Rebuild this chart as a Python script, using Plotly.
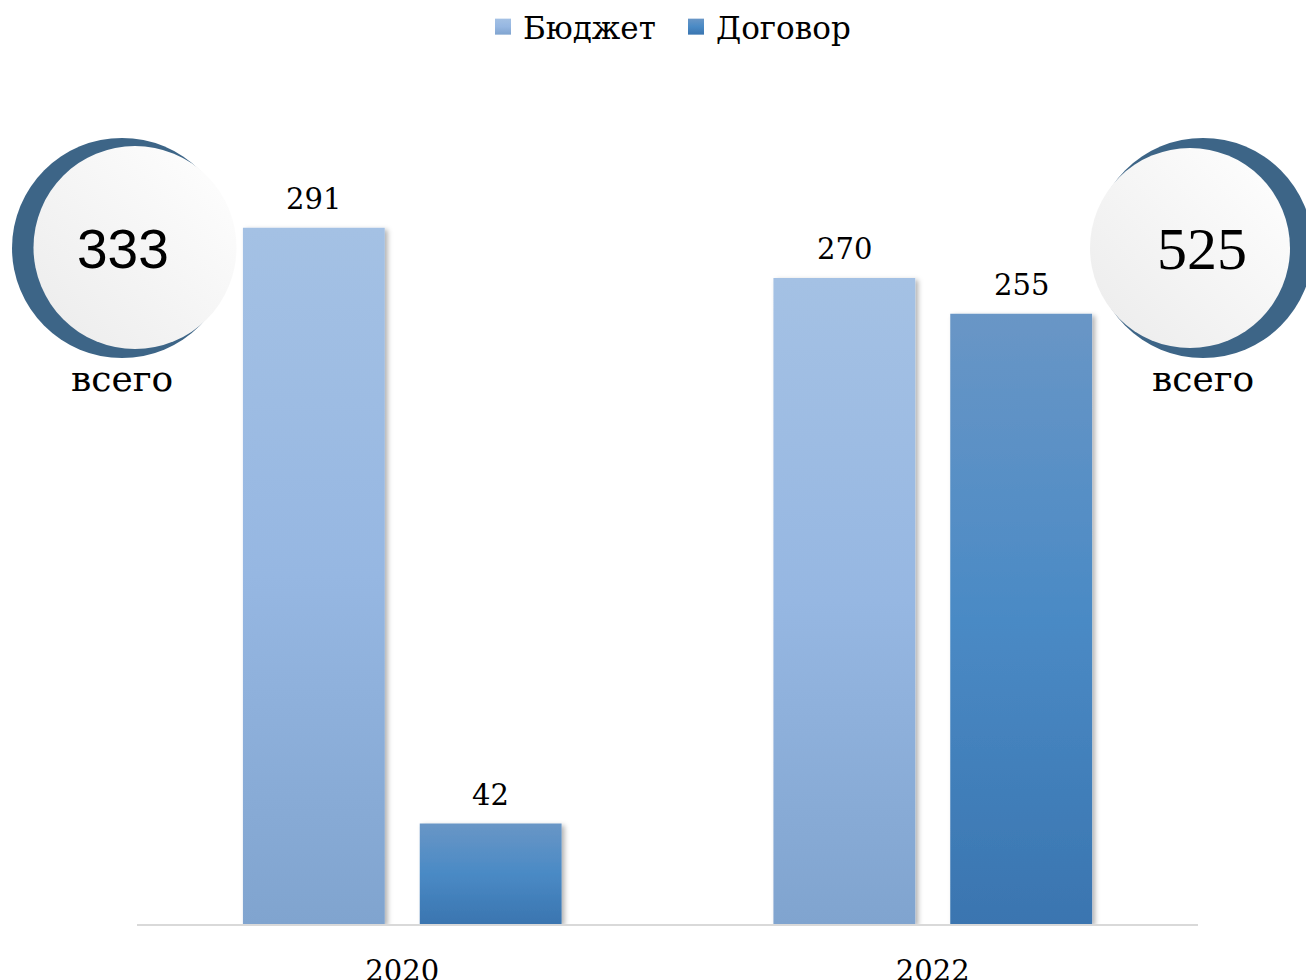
import plotly.graph_objects as go

# ---- data ----
years = ["2020", "2022"]
budget = [291, 270]
contract = [42, 255]
series_names = ["Бюджет", "Договор"]
total_word = "всего"

# ---- layout constants ----
W, H = 1306, 980
ML, MR, MT, MB = 137, 108, 120, 56
PW, PH = W - ML - MR, H - MT - MB
YMAX = 336
BARGAP, GROUPGAP = 1 / 3, 0.198
SERIF = "DejaVu Serif"


def px_x(px):
    return (px - ML) / PW


def px_y(py):
    return (H - MB - py) / PH


fig = go.Figure()
fig.add_trace(go.Bar(name=series_names[0], x=years, y=budget, marker=dict(color="#96b7e2", line=dict(width=0))))
fig.add_trace(go.Bar(name=series_names[1], x=years, y=contract, marker=dict(color="#4a8ac5", line=dict(width=0))))

# data labels above the bars (category axis -> use category index)
slot = (1 - BARGAP) * (PW / len(years)) / 2
annotations = []
for si, vals in enumerate([budget, contract]):
    shift = (si - 0.5) * slot
    for ci, v in enumerate(vals):
        annotations.append(dict(x=ci, y=v, xref="x", yref="y", text=str(v), showarrow=False,
                                xshift=shift, yshift=29, yanchor="middle",
                                font=dict(family=SERIF, size=29, color="#000000")))

# totals badges
totals = [b + c for b, c in zip(budget, contract)]
badges = [
    dict(dark=(122, 248, 110), disk=(135, 247.5, 101.5), num=(122.5, 249), word=(121.5, 379),
         font=dict(family="Liberation Sans, sans-serif", size=55, color="#000")),
    dict(dark=(1203, 248, 110), disk=(1190, 248, 100), num=(1201.5, 249), word=(1202.5, 379),
         font=dict(family="Liberation Serif, serif", size=60, color="#000")),
]
shapes = []
for b, tot in zip(badges, totals):
    cx, cy, r = b["dark"]
    shapes.append(dict(type="circle", xref="paper", yref="paper", layer="above",
                       x0=px_x(cx - r), x1=px_x(cx + r), y0=px_y(cy + r), y1=px_y(cy - r),
                       fillcolor="#3d6587", line=dict(width=0)))
    cx, cy, r = b["disk"]
    shapes.append(dict(type="circle", xref="paper", yref="paper", layer="above",
                       x0=px_x(cx - r), x1=px_x(cx + r), y0=px_y(cy + r), y1=px_y(cy - r),
                       fillcolor="rgb(250,250,251)", line=dict(width=0)))
    annotations.append(dict(x=px_x(b["num"][0]), y=px_y(b["num"][1]), xref="paper", yref="paper",
                            text=str(tot), showarrow=False, xanchor="center", yanchor="middle",
                            font=b["font"]))
    annotations.append(dict(x=px_x(b["word"][0]), y=px_y(b["word"][1]), xref="paper", yref="paper",
                            text=total_word, showarrow=False, xanchor="center", yanchor="middle",
                            font=dict(family=SERIF, size=36, color="#000")))

fig.update_layout(
    width=W, height=H,
    margin=dict(l=ML, r=MR, t=MT, b=MB, autoexpand=False),
    paper_bgcolor="white", plot_bgcolor="white",
    barmode="group", bargap=BARGAP, bargroupgap=GROUPGAP,
    showlegend=True,
    legend=dict(orientation="h", x=px_x(676), xanchor="center", y=px_y(27), yanchor="middle",
                font=dict(family=SERIF, size=31, color="#000"), itemwidth=30,
                entrywidth=148, entrywidthmode="pixels",
                traceorder="normal"),
    xaxis=dict(type="category", range=[-0.5, len(years) - 0.5], autorange=False,
               showline=True, linecolor="#d9d9d9", linewidth=2,
               showgrid=False, zeroline=False, ticks="outside", ticklen=20,
               tickcolor="rgba(0,0,0,0)",
               tickfont=dict(family=SERIF, size=29, color="#000")),
    yaxis=dict(range=[0, YMAX], autorange=False, visible=False, showgrid=False, zeroline=False),
    shapes=shapes,
    annotations=annotations,
)

post_js = r"""
(function(){
document.body.style.margin='0';
document.body.style.padding='0';
var gd = document.getElementById('{plot_id}');
var svg = gd.querySelector('svg.main-svg');
var NS = 'http://www.w3.org/2000/svg';
var defs = svg.querySelector('defs');
if(!defs){ defs = document.createElementNS(NS,'defs'); svg.insertBefore(defs, svg.firstChild); }
function grad(id, x1,y1,x2,y2, stops){
  var g = document.createElementNS(NS,'linearGradient');
  g.setAttribute('id', id);
  g.setAttribute('x1',x1); g.setAttribute('y1',y1); g.setAttribute('x2',x2); g.setAttribute('y2',y2);
  stops.forEach(function(s){ var st=document.createElementNS(NS,'stop'); st.setAttribute('offset', s[0]); st.setAttribute('stop-color', s[1]); g.appendChild(st); });
  defs.appendChild(g);
}
grad('gBud','0','0','0','1', [['0','#a4c1e4'],['0.5','#96b7e2'],['1','#80a4cf']]);
grad('gDog','0','0','0','1', [['0','#6996c6'],['0.5','#4a8ac5'],['1','#3a75b0']]);
grad('gDisk','1','0','0','1', [['0','#ffffff'],['1','#ebebeb']]);
var f = document.createElementNS(NS,'filter');
f.setAttribute('id','shBar'); f.setAttribute('x','-20%'); f.setAttribute('y','-20%');
f.setAttribute('width','140%'); f.setAttribute('height','140%');
var ds = document.createElementNS(NS,'feDropShadow');
ds.setAttribute('dx','3'); ds.setAttribute('dy','2'); ds.setAttribute('stdDeviation','2.5');
ds.setAttribute('flood-color','#000'); ds.setAttribute('flood-opacity','0.3');
f.appendChild(ds); defs.appendChild(f);
var ids = ['gBud','gDog'];
gd.querySelectorAll('.barlayer .trace').forEach(function(t,i){
  t.querySelectorAll('path').forEach(function(p){ p.style.fill='url(#'+ids[i]+')'; p.setAttribute('filter','url(#shBar)'); });
});
gd.querySelectorAll('.legend .traces').forEach(function(t,i){
  t.querySelectorAll('.legendpoints path').forEach(function(p){ p.style.fill='url(#'+ids[i]+')'; p.setAttribute('d','M8,8H-8V-8H8Z'); });
});
gd.querySelectorAll('.shapelayer path').forEach(function(p){
  if ((p.style.fill||'').indexOf('250, 250, 251')>=0){ p.style.fill='url(#gDisk)'; }
});
})();
"""

fig.write_html("out.html", post_script=post_js, config={"displayModeBar": False})
